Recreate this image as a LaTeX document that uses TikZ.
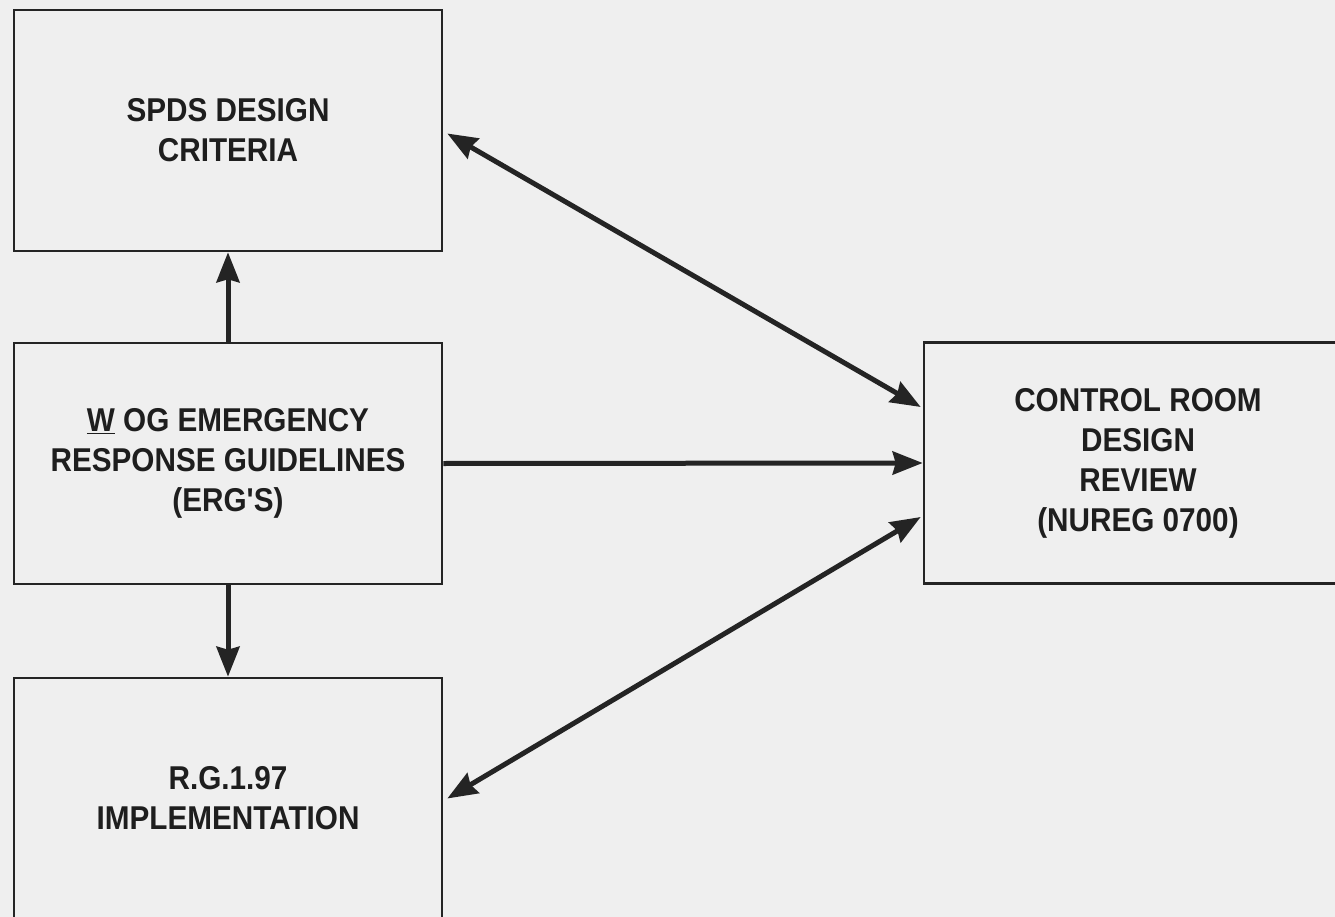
\documentclass[tikz,border=0pt]{standalone}
\usepackage{fontspec}
\newfontfamily\cfont{Liberation Sans}[FakeStretch=0.9]
\usetikzlibrary{arrows.meta}
\definecolor{bgc}{HTML}{EFEFEF}
\definecolor{linec}{HTML}{242424}
\definecolor{textc}{HTML}{1E1E1E}
\begin{document}
\begin{tikzpicture}[x=1pt,y=-1pt,
  >={Stealth[length=30pt,width=23pt,inset=3pt]},
  blockbox/.style={draw=linec, line width=2.6pt, minimum width=428pt, minimum height=241pt,
    inner sep=0pt, align=center, text=textc,
    font=\cfont\bfseries\fontsize{33}{40}\selectfont},
  arr/.style={draw=linec, line width=5pt, ->},
  darr/.style={draw=linec, line width=5pt, <->}]
\fill[bgc] (0,0) rectangle (1335,917);
\useasboundingbox (0,0) rectangle (1335,917);
\node[blockbox] (spds) at (228,130.5) {SPDS DESIGN\\CRITERIA};
\node[blockbox] (wog) at (228,463.5) {\underline{W} OG EMERGENCY\\RESPONSE GUIDELINES\\(ERG'S)};
\node[blockbox] (rg) at (228,798.5) {R.G.1.97\\IMPLEMENTATION};
\node[blockbox] (cr) at (1138,463) {CONTROL ROOM\\DESIGN\\REVIEW\\(NUREG 0700)};
\draw[arr] (wog.north) -- (spds.south);
\draw[arr] (wog.south) -- (rg.north);
\draw[arr] (wog.east) -- (cr.west);
\draw[darr] ([xshift=4pt,yshift=-3pt]spds.east) -- ([yshift=56pt,xshift=-2pt]cr.west);
\draw[darr] ([xshift=4pt,yshift=0pt]rg.east) -- ([yshift=-54pt,xshift=-2pt]cr.west);
\end{tikzpicture}
\end{document}
